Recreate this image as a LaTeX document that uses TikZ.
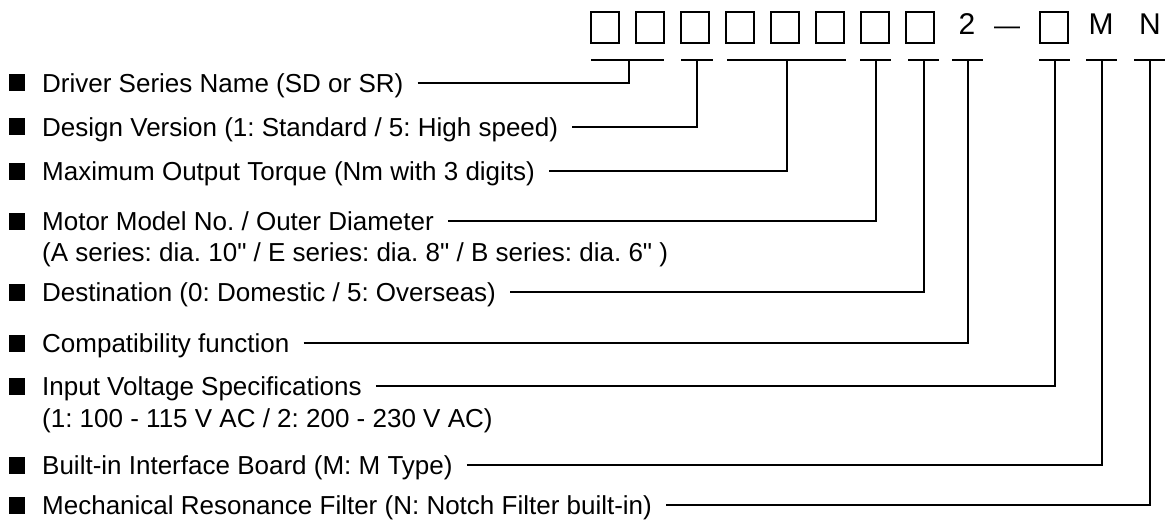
\documentclass[tikz,border=0pt]{standalone}
\usepackage{fontspec}
\newfontfamily\lsans{Liberation Sans}
\frenchspacing
\begin{document}
\frenchspacing
\begin{tikzpicture}[x=1pt,y=-1pt,
  codebox/.style={draw, line width=1.2pt, minimum width=28pt, minimum height=31pt, inner sep=0},
  codechar/.style={font=\lsans\fontsize{30}{30}\selectfont, inner sep=0, anchor=base},
  lbl/.style={anchor=west, inner sep=0, font=\lsans\fontsize{26}{30}\selectfont\frenchspacing, text height=18.6pt, text depth=0pt},
  bul/.style={fill=black, minimum width=16pt, minimum height=17pt, inner sep=0},
  ln/.style={line width=1.4pt},
]
\useasboundingbox (0,0) rectangle (1167,524);

% code boxes
\foreach \i in {0,...,7} {
  \node[codebox] (b\i) at (605+45*\i,27.5) {};
}
\node[codechar] (two) at (967,35) {2};
\node[codechar, font=\lsans\fontsize{26}{26}\selectfont] (dash) at (1007,35) {—};
\node[codebox] (b8) at (1054,27.5) {};
\node[codechar] (mm) at (1101,35) {M};
\node[codechar] (nn) at (1150,35) {N};

% underline stems
\coordinate (u1) at (629,60);
\coordinate (u2) at (697,60);
\coordinate (u3) at (787,60);
\coordinate (u4) at (876,60);
\coordinate (u5) at (924,60);
\coordinate (u6) at (968,60);
\coordinate (u7) at (1055,60);
\coordinate (u8) at (1102,60);
\coordinate (u9) at (1150,60);

\draw[ln] ([xshift=-38]u1) -- ([xshift=35]u1);
\draw[ln] ([xshift=-16]u2) -- ([xshift=16]u2);
\draw[ln] ([xshift=-60]u3) -- ([xshift=59]u3);
\foreach \k in {4,...,9} {
  \draw[ln] ([xshift=-16]u\k) -- ([xshift=15]u\k);
}

% labels
\node[bul] (q1) at (17,83) {};
\node[lbl] (l1) at (42,83) {Driver Series Name (SD or SR)};
\node[bul] (q2) at (17,127) {};
\node[lbl] (l2) at (42,127) {Design Version (1: Standard / 5: High speed)};
\node[bul] (q3) at (17,171) {};
\node[lbl] (l3) at (42,171) {Maximum Output Torque (Nm with 3 digits)};
\node[bul] (q4) at (17,221) {};
\node[lbl] (l4) at (42,221) {Motor Model No. / Outer Diameter};
\node[lbl] (l4b) at (42,252) {(A series: dia. 10" / E series: dia. 8" / B series: dia. 6" )};
\node[bul] (q5) at (17,292) {};
\node[lbl] (l5) at (42,292) {Destination (0: Domestic / 5: Overseas)};
\node[bul] (q6) at (17,343) {};
\node[lbl] (l6) at (42,343) {Compatibility function};
\node[bul] (q7) at (17,386) {};
\node[lbl] (l7) at (42,386) {Input Voltage Specifications};
\node[lbl] (l7b) at (42,418) {(1: 100 - 115 V AC / 2: 200 - 230 V AC)};
\node[bul] (q8) at (17,465) {};
\node[lbl] (l8) at (42,465) {Built-in Interface Board (M: M Type)};
\node[bul] (q9) at (17,505) {};
\node[lbl] (l9) at (42,505) {Mechanical Resonance Filter (N: Notch Filter built-in)};

% connectors
\foreach \k in {1,...,9} {
  \draw[ln] ([xshift=14pt]l\k.east) -| (u\k);
}
\end{tikzpicture}
\end{document}
